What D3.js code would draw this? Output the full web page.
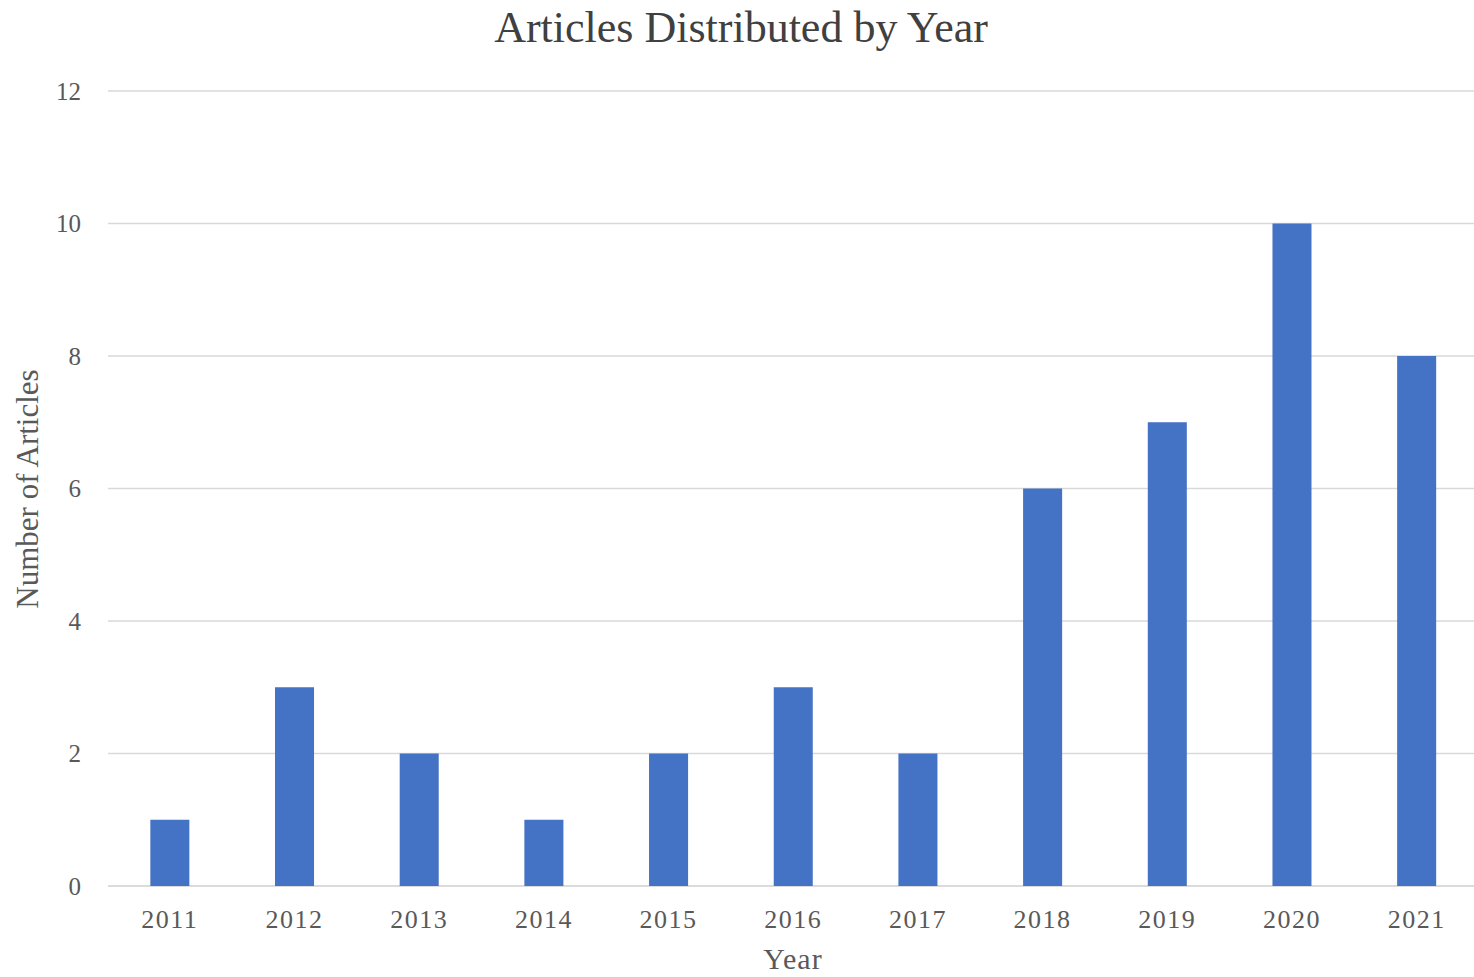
<!DOCTYPE html>
<html>
<head>
<meta charset="utf-8">
<script src="https://d3js.org/d3.v7.min.js"></script>
<style>
    body { margin: 0; background: white; }
    svg text { font-family: "Liberation Serif", "Times New Roman", serif; }
</style>
</head>
<body>
<div id="chart"></div>
<script>
    // data
    const years = ["2011", "2012", "2013", "2014", "2015", "2016", "2017", "2018", "2019", "2020", "2021"];
    const articles = [1, 3, 2, 1, 2, 3, 2, 6, 7, 10, 8];
    const yTicks = [0, 2, 4, 6, 8, 10, 12];

    const width = 1474, height = 977;

    const svg = d3.select("#chart")
        .append("svg")
        .attr("width", width)
        .attr("height", height);

    const x = d3.scaleBand()
        .domain(years)
        .range([107.5, 1479])
        .paddingInner(0.687)
        .paddingOuter(0.3435);

    const y = d3.scaleLinear()
        .domain([0, 12])
        .range([886, 91]);

    // gridlines
    svg.append("g")
        .selectAll("line")
        .data(yTicks)
        .join("line")
        .attr("x1", 108)
        .attr("x2", width)
        .attr("y1", d => y(d))
        .attr("y2", d => y(d))
        .attr("stroke", d => d == 0 ? "#cfcfcf" : "#d9d9d9")
        .attr("stroke-width", 1.5);

    // y tick labels
    svg.append("g")
        .selectAll("text")
        .data(yTicks)
        .join("text")
        .attr("x", 81)
        .attr("y", d => y(d))
        .attr("dy", "0.35em")
        .attr("text-anchor", "end")
        .attr("font-size", 25)
        .attr("fill", "#595959")
        .text(d => d);

    // bars
    svg.append("g")
        .selectAll("rect")
        .data(years)
        .join("rect")
        .attr("x", d => x(d))
        .attr("width", x.bandwidth())
        .attr("y", (d, i) => y(articles[i]))
        .attr("height", (d, i) => y(0) - y(articles[i]))
        .attr("fill", "#4472c4");

    // x tick labels
    svg.append("g")
        .selectAll("text")
        .data(years)
        .join("text")
        .attr("x", d => x(d) + x.bandwidth() / 2)
        .attr("y", 928)
        .attr("text-anchor", "middle")
        .attr("font-size", 26)
        .attr("letter-spacing", 1.5)
        .attr("fill", "#595959")
        .text(d => d);

    // title
    svg.append("text")
        .attr("x", 741)
        .attr("y", 42)
        .attr("text-anchor", "middle")
        .attr("font-size", 44)
        .attr("fill", "#404040")
        .text("Articles Distributed by Year");

    // axis titles
    svg.append("text")
        .attr("x", 793)
        .attr("y", 969)
        .attr("text-anchor", "middle")
        .attr("font-size", 30)
        .attr("letter-spacing", 1)
        .attr("fill", "#595959")
        .text("Year");

    svg.append("text")
        .attr("transform", "translate(38,489) rotate(-90)")
        .attr("text-anchor", "middle")
        .attr("font-size", 31)
        .attr("fill", "#595959")
        .text("Number of Articles");
</script>
</body>
</html>
